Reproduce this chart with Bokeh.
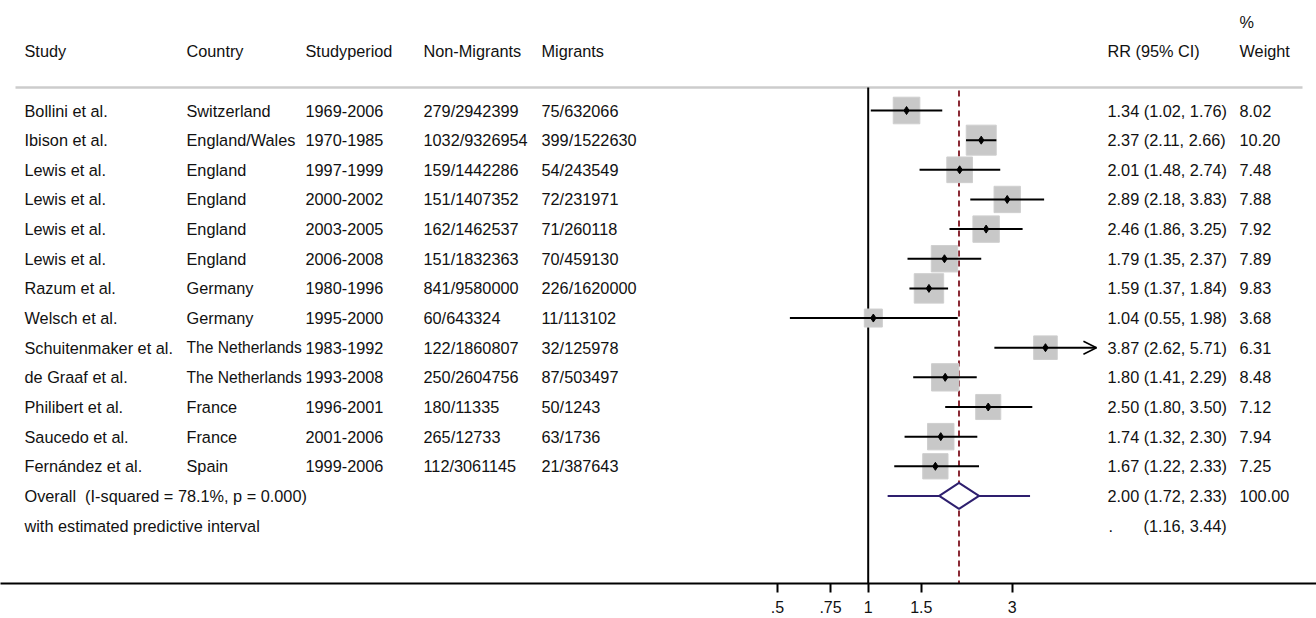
import math
from bokeh.plotting import figure
from bokeh.models import ColumnDataSource, Range1d, FixedTicker, CustomJSTickFormatter, Arrow, OpenHead
from bokeh.core.properties import value
from bokeh.embed import file_html
from bokeh.resources import INLINE

# ---------------- data ----------------
studies = ["Bollini et al.", "Ibison et al.", "Lewis et al.", "Lewis et al.", "Lewis et al.",
           "Lewis et al.", "Razum et al.", "Welsch et al.", "Schuitenmaker et al.",
           "de Graaf et al.", "Philibert et al.", "Saucedo et al.", "Fernández et al."]
countries = ["Switzerland", "England/Wales", "England", "England", "England", "England",
             "Germany", "Germany", "The Netherlands", "The Netherlands", "France", "France", "Spain"]
periods = ["1969-2006", "1970-1985", "1997-1999", "2000-2002", "2003-2005", "2006-2008",
           "1980-1996", "1995-2000", "1983-1992", "1993-2008", "1996-2001", "2001-2006", "1999-2006"]
non_migrants = ["279/2942399", "1032/9326954", "159/1442286", "151/1407352", "162/1462537",
                "151/1832363", "841/9580000", "60/643324", "122/1860807", "250/2604756",
                "180/11335", "265/12733", "112/3061145"]
migrants = ["75/632066", "399/1522630", "54/243549", "72/231971", "71/260118", "70/459130",
            "226/1620000", "11/113102", "32/125978", "87/503497", "50/1243", "63/1736", "21/387643"]
rr = [1.34, 2.37, 2.01, 2.89, 2.46, 1.79, 1.59, 1.04, 3.87, 1.80, 2.50, 1.74, 1.67]
lo = [1.02, 2.11, 1.48, 2.18, 1.86, 1.35, 1.37, 0.55, 2.62, 1.41, 1.80, 1.32, 1.22]
hi = [1.76, 2.66, 2.74, 3.83, 3.25, 2.37, 1.84, 1.98, 5.71, 2.29, 3.50, 2.30, 2.33]
weights = [8.02, 10.20, 7.48, 7.88, 7.92, 7.89, 9.83, 3.68, 6.31, 8.48, 7.12, 7.94, 7.25]
overall_rr, overall_lo, overall_hi = 2.00, 1.72, 2.33
overall_weight = 100.00
pred_lo, pred_hi = 1.16, 3.44
i_squared, p_value = 78.1, 0.000
headers = ["Study", "Country", "Studyperiod", "Non-Migrants", "Migrants", "RR (95% CI)", "Weight"]
tick_values = [0.5, 0.75, 1, 1.5, 3]
arrow_limit = 5.0

# ---------------- layout helpers ----------------
W, H = 1316, 618
X_ONE, PX_PER_LN = 867.7, 131.0
ROW0_PX, ROW_PX, FRAME_BOTTOM = 110.0, 29.65, 583.0


def px2x(px):
    return math.exp((px - X_ONE) / PX_PER_LN)


def px2row(py):
    return (py - ROW0_PX) / ROW_PX


FONT = value("Liberation Sans")
FS = "16.3px"
FS_NARROW = "15.6px"   # a long country name needs a touch less room

p = figure(width=W, height=H, x_axis_type="log", y_axis_location=None,
           toolbar_location=None, output_backend="svg",
           x_range=Range1d(px2x(0), px2x(W)),
           y_range=Range1d(px2row(FRAME_BOTTOM), px2row(0)),
           min_border=0, min_border_bottom=int(H - FRAME_BOTTOM))
p.outline_line_color = None
p.xgrid.visible = False
p.ygrid.visible = False
p.background_fill_color = "white"

n = len(studies)
rows = list(range(n))
overall_row = n
pred_row = n + 1
header_row = -2

# header rule and reference lines
p.segment(x0=[px2x(15)], y0=[px2row(87)], x1=[px2x(1302)], y1=[px2row(87)],
          line_color="#cccccc", line_width=2.5)
p.segment(x0=[1], y0=[px2row(87)], x1=[1], y1=[px2row(FRAME_BOTTOM)],
          line_color="black", line_width=2)
p.segment(x0=[overall_rr], y0=[px2row(90)], x1=[overall_rr], y1=[px2row(FRAME_BOTTOM)],
          line_color="#8b2a35", line_width=2, line_dash="6 4")

# boxes
sizes = [30.0 * math.sqrt(w / max(weights)) for w in weights]
src = ColumnDataSource(dict(y=rows, rr=rr, lo=lo, hi=hi, size=sizes))
p.scatter(x="rr", y="y", size="size", marker="square", source=src,
          fill_color="#c8c8c8", line_color="#cfcfcf", line_width=1)
# CIs
p.segment(x0="lo", y0="y", x1="hi", y1="y", source=src, line_color="black", line_width=2)
for i in range(n):
    if hi[i] > arrow_limit:
        p.add_layout(Arrow(end=OpenHead(size=13, line_width=1.6, line_color="black"),
                           x_start=lo[i], y_start=i, x_end=hi[i], y_end=i,
                           line_width=0, line_alpha=0))
p.scatter(x="rr", y="y", size=8, marker="diamond", source=src,
          fill_color="black", line_color="black")

# overall diamond and predictive interval
dh = 13.0 / ROW_PX
NAVY = "#2e1f6e"
p.segment(x0=[pred_lo, overall_hi], y0=[overall_row, overall_row],
          x1=[overall_lo, pred_hi], y1=[overall_row, overall_row],
          line_color=NAVY, line_width=2)
p.patch(x=[overall_lo, overall_rr, overall_hi, overall_rr],
        y=[overall_row, overall_row - dh, overall_row, overall_row + dh],
        fill_color="white", line_color=NAVY, line_width=2)

# text columns
col_px = [24, 186, 305, 423, 541, 1107, 1239]
texts, xs, ys, fss = [], [], [], []


def add(t, px, row, fs=FS):
    texts.append(t)
    xs.append(px2x(px))
    ys.append(row)
    fss.append(fs)


for h, cx in zip(headers, col_px):
    add(h, cx, header_row)
add("%", col_px[6], -3)
for i in range(n):
    add(studies[i], col_px[0], i)
    add(countries[i], col_px[1], i, FS_NARROW if len(countries[i]) > 14 else FS)
    add(periods[i], col_px[2], i)
    add(non_migrants[i], col_px[3], i)
    add(migrants[i], col_px[4], i)
    add(f"{rr[i]:.2f} ({lo[i]:.2f}, {hi[i]:.2f})", col_px[5], i)
    add(f"{weights[i]:.2f}", col_px[6], i)
add(f"Overall\u00a0 (I-squared = {i_squared:.1f}%, p = {p_value:.3f})", col_px[0], overall_row)
add(f"{overall_rr:.2f} ({overall_lo:.2f}, {overall_hi:.2f})", col_px[5], overall_row)
add(f"{overall_weight:.2f}", col_px[6], overall_row)
add("with estimated predictive interval", col_px[0], pred_row)
add(".", col_px[5] + 1, pred_row)
add(f"({pred_lo:.2f}, {pred_hi:.2f})", col_px[5] + 36, pred_row)

tsrc = ColumnDataSource(dict(x=xs, y=ys, t=texts, fs=fss))
p.text(x="x", y="y", text="t", source=tsrc, text_font=FONT, text_font_size="fs",
       text_baseline="middle", text_align="left", text_color="#111111")

# axis
ax = p.xaxis[0]
ax.ticker = FixedTicker(ticks=tick_values, minor_ticks=[])
ax.formatter = CustomJSTickFormatter(code="""
    let s = String(tick);
    if (s.startsWith('0.')) { s = s.slice(1); }
    return s;
""")
ax.axis_line_width = 2
ax.axis_line_color = "black"
ax.major_tick_in = 0
ax.major_tick_out = 9
ax.major_tick_line_width = 2
ax.minor_tick_line_color = None
ax.major_label_text_font = "Liberation Sans"
ax.major_label_text_font_size = "16px"
ax.major_label_text_color = "#111111"
ax.major_label_standoff = 8

open("out.html", "w").write(file_html(p, INLINE))
